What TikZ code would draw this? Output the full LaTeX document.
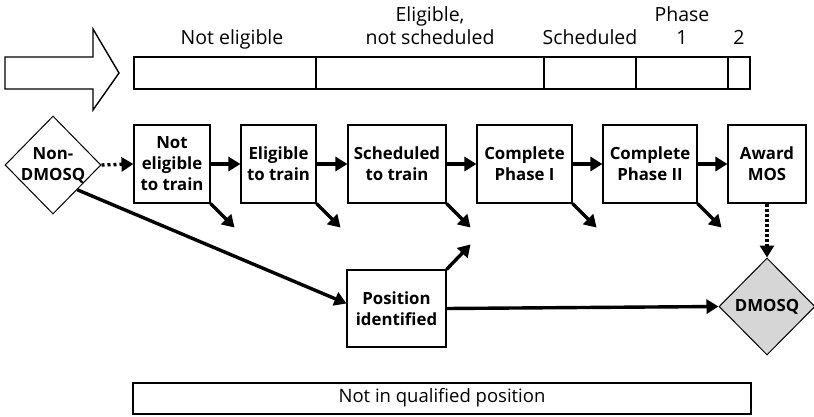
\documentclass[tikz,border=0pt]{standalone}
\usepackage{fontspec}
\setmainfont{Open Sans}
\usetikzlibrary{arrows.meta,shapes.geometric,calc}

\tikzset{
  stage/.style={draw, line width=1.1pt, fill=white, minimum height=78pt,
    inner sep=0pt, align=center, font=\bfseries\fontsize{16.8}{21}\selectfont},
  gate/.style={draw, diamond, line width=1pt, minimum width=96pt,
    minimum height=98pt, inner sep=0pt},
  gatetext/.style={align=center, font=\bfseries\fontsize{16.8}{21}\selectfont},
  period/.style={anchor=base, align=center, font=\fontsize{19.5}{23}\selectfont},
  flow/.style={line width=3.4pt, -{Triangle[length=12pt,width=14pt]}},
  maybe/.style={flow, dash pattern=on 3pt off 3pt},
  band/.style={line width=2pt},
}

\begin{document}
\begin{tikzpicture}[x=1pt,y=-1pt]
\useasboundingbox (0,0) rectangle (814,416);

% time arrow and the periods it runs through
\draw[line width=1.4pt, line join=miter]
  (5,57) -- (93,57) -- (93,29) -- (119,73) -- (93,110) -- (93,89) -- (5,89) -- cycle;
\draw[band] (134,57) rectangle (750,89);
\foreach \x in {316,544,636,728} \draw[band] (\x,57) -- (\x,89);

\node[period] (pne) at (232,44) {Not eligible};
\node[period] (pel) at (430,21) {Eligible,};
\node[period] (pns) at (430,44) {not scheduled};
\node[period] (psc) at (590,44) {Scheduled};
\node[period] (pph) at (682,21) {Phase};
\node[period] (pp1) at (682,44) {1};
\node[period] (pp2) at (739,44) {2};

% training pipeline
\node[gate] (nd) at (53,165) {};
\node[gatetext] (ndt) at (nd) {Non-\\DMOSQ};

\node[stage, minimum width=76pt] (b1) at (172,164) {Not\\eligible\\to train};
\node[stage, minimum width=75pt] (b2) at (278.5,164) {Eligible\\to train};
\node[stage, minimum width=98pt] (b3) at (397,164) {Scheduled\\to train};
\node[stage, minimum width=95pt] (b4) at (524.5,164) {Complete\\Phase I};
\node[stage, minimum width=94pt] (b5) at (650,164) {Complete\\Phase II};
\node[stage, minimum width=78pt] (b6) at (767,164) {Award\\MOS};

\node[stage, minimum width=99pt, minimum height=77pt] (pos) at (396.5,308.5) {Position\\identified};

\node[gate, fill=black!16, minimum height=97pt] (dq) at (767,306.5) {};
\node[gatetext] (dqt) at (dq) {DMOSQ};

\node[draw, line width=2pt, minimum width=618pt, minimum height=31pt, inner sep=0pt,
  font=\fontsize{18.5}{20}\selectfont] (nq) at (442,398) {Not in qualified position};

% moves along the pipeline
\draw[maybe] (nd.east) -- (b1.west);
\draw[flow] (b1) -- (b2);
\draw[flow] (b2) -- (b3);
\draw[flow] (b3) -- (b4);
\draw[flow] (b4) -- (b5);
\draw[flow] (b5) -- (b6);
\draw[maybe, dash pattern=on 3pt off 2pt] (b6.south) -- (dq.north);

% exits from each stage
\foreach \b in {b1,b2,b3,b4,b5} {
  \coordinate (\b x) at ($(\b.south east)+(24,24)$);
  \draw[flow] (\b.south east) -- (\b x);
}

% position route
\coordinate (posx) at ($(pos.north east)+(24,-25)$);
\draw[flow] (nd.south east) -- ($(pos.west)+(0,-5)$);
\draw[flow] (pos.north east) -- (posx);
\draw[flow] (pos.east) -- (dq.west);
\end{tikzpicture}
\end{document}
